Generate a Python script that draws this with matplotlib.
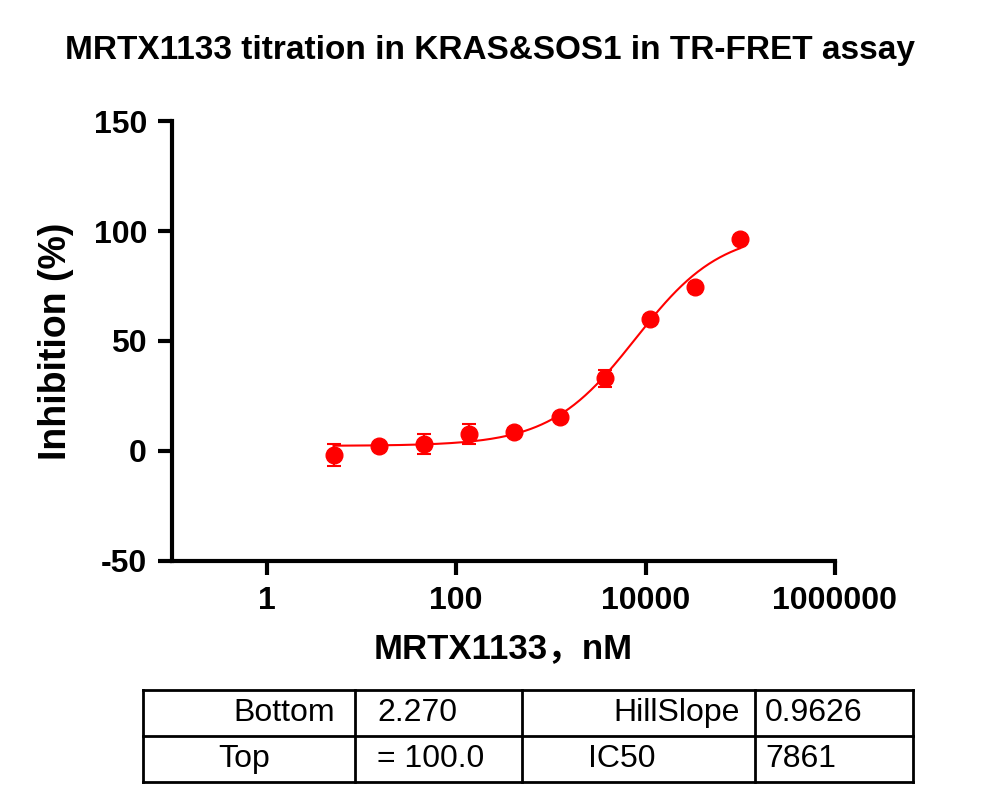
import numpy as np
import matplotlib
matplotlib.use("Agg")
import matplotlib.pyplot as plt

plt.rcParams['font.family'] = ['Liberation Sans', 'Noto Sans CJK SC', 'DejaVu Sans']
plt.rcParams['axes.unicode_minus'] = False

conc = [5.08, 15.2, 45.7, 137, 412, 1235, 3704, 11111, 33333, 100000]
inhib = [-2, 2, 3, 7.5, 8.5, 15.5, 33, 60, 74.5, 96.5]
err = [5, 1.5, 4.5, 4.5, 2, 1.5, 4, 2, 2, 1.5]
bottom, top, hill, ic50 = 2.270, 100.0, 0.9626, 7861
table_rows = [["Bottom", "2.270", "HillSlope", "0.9626"],
              ["Top", "= 100.0", "IC50", "7861"]]

fig = plt.figure(figsize=(10, 8.08), dpi=100)
ax = fig.add_axes([0.172, 0.306, 0.663, 0.544])
red = '#ff0000'
xs = np.logspace(np.log10(conc[0]), np.log10(conc[-1]), 300)
ys = bottom + (top - bottom) / (1 + (ic50 / xs) ** hill)
ax.plot(xs, ys, color=red, lw=1.5)
ax.errorbar(conc, inhib, yerr=err, fmt='o', color=red, ms=12, capsize=5, elinewidth=1.5, capthick=1.5)
ax.set_xscale('log')
ax.set_xlim(0.1, 1e6)
ax.set_ylim(-50, 150)
ax.set_xticks([1, 100, 10000, 1000000])
ax.set_xticklabels(['1', '100', '10000', '1000000'])
ax.xaxis.set_minor_locator(matplotlib.ticker.NullLocator())
ax.set_yticks([-50, 0, 50, 100, 150])
for s in ['top', 'right']:
    ax.spines[s].set_visible(False)
for s in ['left', 'bottom']:
    ax.spines[s].set_linewidth(3)
ax.tick_params(width=3, length=10, labelsize=23, pad=8)
for t in ax.get_xticklabels() + ax.get_yticklabels():
    t.set_fontweight('bold')
ax.set_xlabel('MRTX1133，nM', fontsize=25, fontweight='bold', labelpad=12)
ax.set_ylabel('Inhibition (%)', fontsize=27, fontweight='bold', labelpad=14)
fig.text(0.49, 0.937, 'MRTX1133 titration in KRAS&SOS1 in TR-FRET assay', ha='center', va='center',
         fontsize=24, fontweight='bold')

# table
xe = [0.143, 0.355, 0.522, 0.755, 0.913]
yt, ym, yb = 1 - 690/808, 1 - 736/808, 1 - 782/808
lw = 2
for x in xe:
    fig.add_artist(plt.Line2D([x, x], [yb, yt], color='k', lw=lw))
for y in [yt, ym, yb]:
    fig.add_artist(plt.Line2D([xe[0], xe[-1]], [y, y], color='k', lw=lw))
fs = 23
for r, row in enumerate(table_rows):
    yc = (yt + ym) / 2 if r == 0 else (ym + yb) / 2
    fig.text(xe[1] - 0.02 if r == 0 else 0.218, yc, row[0], ha='right' if r == 0 else 'left', va='center', fontsize=fs)
    fig.text(xe[1] + 0.022, yc, row[1], ha='left', va='center', fontsize=fs)
    fig.text(xe[3] - 0.015 if r == 0 else 0.588, yc, row[2], ha='right' if r == 0 else 'left', va='center', fontsize=fs)
    fig.text(xe[3] + 0.01, yc, row[3], ha='left', va='center', fontsize=fs)

fig.savefig('out.png', dpi=100)
